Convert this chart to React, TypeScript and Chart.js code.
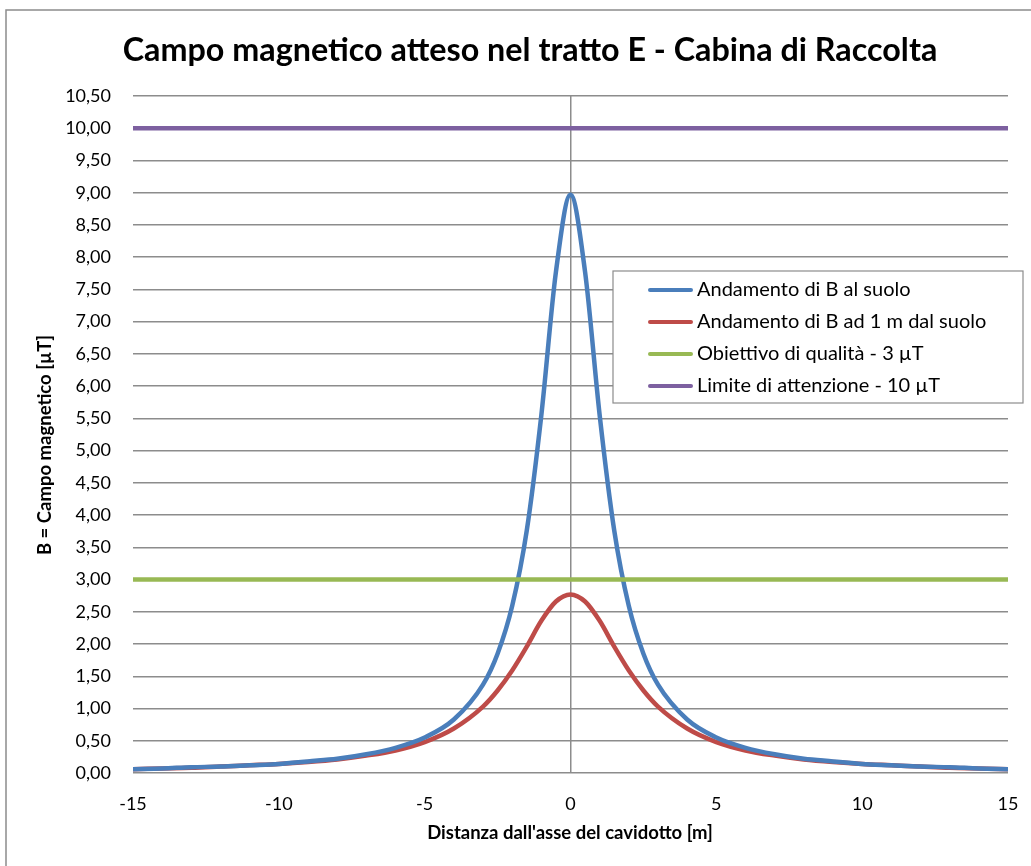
import { useEffect, useRef } from "react";
import { Chart, registerables } from "chart.js";
Chart.register(...registerables);

const chartTitle = "Campo magnetico atteso nel tratto E - Cabina di Raccolta";
const xAxisTitle = "Distanza dall'asse del cavidotto [m]";
const yAxisTitle = "B = Campo magnetico [µT]";

const distances = [-15, -14, -13, -12, -11, -10, -9, -8, -7, -6, -5, -4, -3, -2.5, -2, -1.5, -1, -0.5, 0, 0.5, 1, 1.5, 2, 2.5, 3, 4, 5, 6, 7, 8, 9, 10, 11, 12, 13, 14, 15];
const groundField = [0.06, 0.07, 0.09, 0.10, 0.12, 0.14, 0.18, 0.22, 0.29, 0.39, 0.55, 0.83, 1.37, 1.85, 2.59, 3.76, 5.55, 7.77, 8.97, 7.77, 5.55, 3.76, 2.59, 1.85, 1.37, 0.83, 0.55, 0.39, 0.29, 0.22, 0.18, 0.14, 0.12, 0.10, 0.09, 0.07, 0.06];
const oneMeterField = [0.06, 0.07, 0.08, 0.10, 0.12, 0.14, 0.17, 0.21, 0.27, 0.35, 0.48, 0.69, 1.03, 1.28, 1.59, 1.96, 2.36, 2.66, 2.77, 2.66, 2.36, 1.96, 1.59, 1.28, 1.03, 0.69, 0.48, 0.35, 0.27, 0.21, 0.17, 0.14, 0.12, 0.10, 0.08, 0.07, 0.06];
const limitRange = [-15, 15];
const qualityTarget = 3;
const attentionLimit = 10;

const seriesLabels = [
  "Andamento di B al suolo",
  "Andamento di B ad 1 m dal suolo",
  "Obiettivo di qualità - 3 µT",
  "Limite di attenzione - 10 µT",
];
const seriesColors = ["#4A7EBB", "#BE4B48", "#98B954", "#7D60A0"];

const FONT = "Lato, 'Open Sans', sans-serif";

const decorPlugin = {
  id: "decor",
  beforeDraw(chart: any) {
    const ctx = chart.ctx;
    ctx.save();
    ctx.fillStyle = "#fff";
    ctx.fillRect(0, 0, chart.width, chart.height);
    ctx.strokeStyle = "#8c8c8c";
    ctx.lineWidth = 1.5;
    ctx.strokeRect(6, 10, chart.width + 20, chart.height + 20);
    ctx.restore();
  },
  afterDraw(chart: any) {
    const ctx = chart.ctx;
    const area = chart.chartArea;
    ctx.save();
    // title
    ctx.fillStyle = "#000";
    ctx.textAlign = "center";
    ctx.textBaseline = "middle";
    ctx.font = `bold 32.3px ${FONT}`;
    ctx.fillText(chartTitle, 530, 51);
    // x title
    ctx.font = `bold 18.5px ${FONT}`;
    ctx.fillText(xAxisTitle, 570, 833);
    // y title
    ctx.save();
    ctx.translate(45, 445);
    ctx.rotate(-Math.PI / 2);
    ctx.fillText(yAxisTitle, 0, 0);
    ctx.restore();
    // legend
    const bx = 613, by = 271, bw = 410, bh = 132;
    ctx.fillStyle = "#fff";
    ctx.fillRect(bx, by, bw, bh);
    ctx.strokeStyle = "#8c8c8c";
    ctx.lineWidth = 1.2;
    ctx.strokeRect(bx, by, bw, bh);
    const rows = [290, 322, 354, 386];
    ctx.textAlign = "left";
    ctx.font = `20px ${FONT}`;
    seriesLabels.forEach((lab, i) => {
      const y = rows[i];
      ctx.strokeStyle = seriesColors[i];
      ctx.lineWidth = 4;
      ctx.lineCap = "round";
      ctx.beginPath();
      ctx.moveTo(650, y);
      ctx.lineTo(691, y);
      ctx.stroke();
      ctx.fillStyle = "#000";
      ctx.fillText(lab, 697, y);
    });
    ctx.restore();
  },
};

export default function App() {
  const ref = useRef<HTMLCanvasElement>(null);
  useEffect(() => {
    if (!ref.current) return;
    const pts = (ys: number[]) => distances.map((x, i) => ({ x, y: ys[i] }));
    const flat = (v: number) => limitRange.map((x) => ({ x, y: v }));
    const mk = (label: string, data: any[], color: string) => ({
      label,
      data,
      borderColor: color,
      backgroundColor: color,
      borderWidth: 4.5,
      pointRadius: 0,
      showLine: true,
      cubicInterpolationMode: "monotone" as const,
      fill: false,
    });
    const chart = new Chart(ref.current, {
      type: "scatter",
      data: {
        datasets: [
          mk(seriesLabels[3], flat(attentionLimit), seriesColors[3]),
          mk(seriesLabels[2], flat(qualityTarget), seriesColors[2]),
          mk(seriesLabels[0], pts(groundField), seriesColors[0]),
          mk(seriesLabels[1], pts(oneMeterField), seriesColors[1]),
        ],
      },
      options: {
        responsive: false,
        animation: false,
        events: [],
        layout: { padding: { top: 96, right: 23, left: 0, bottom: 0 } },
        plugins: { legend: { display: false }, tooltip: { enabled: false }, title: { display: false } },
        scales: {
          x: {
            type: "linear",
            min: -15,
            max: 15,
            border: { display: false },
            afterFit: (s: any) => { s.height = 93; s.paddingLeft = 0; s.paddingRight = 0; },
            grid: {
              drawTicks: false,
              lineWidth: 1.5,
              color: (c: any) => (c.tick && c.tick.value === 0 ? "#8c8c8c" : "rgba(0,0,0,0)"),
            },
            ticks: {
              stepSize: 5,
              padding: 20,
              color: "#000",
              font: { family: FONT, size: 18 },
              callback: (v: any) => String(v),
            },
          },
          y: {
            type: "linear",
            min: 0,
            max: 10.5,
            border: { display: false },
            afterFit: (s: any) => { s.width = 133; s.paddingTop = 0; s.paddingBottom = 0; },
            grid: { drawTicks: false, lineWidth: 1.5, color: "#8c8c8c" },
            ticks: {
              stepSize: 0.5,
              padding: 22,
              color: "#000",
              font: { family: FONT, size: 18 },
              callback: (v: any) => Number(v).toFixed(2).replace(".", ","),
            },
          },
        },
      },
      plugins: [decorPlugin],
    });
    return () => chart.destroy();
  }, []);
  return (
    <canvas
      ref={ref}
      width={1031}
      height={866}
      style={{ position: "fixed", left: 0, top: 0, width: 1031, height: 866 }}
    />
  );
}
